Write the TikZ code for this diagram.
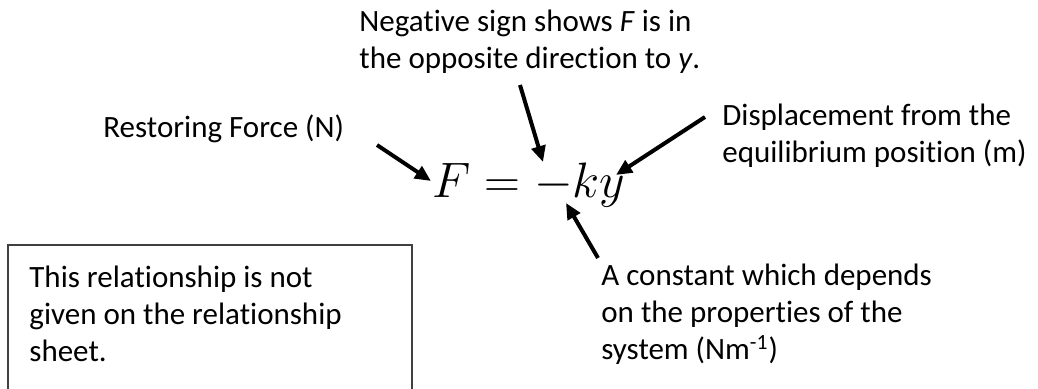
\documentclass[tikz,border=0pt]{standalone}
\usepackage{fontspec}
\setmainfont{Carlito}[Ligatures=NoCommon]
\usetikzlibrary{arrows.meta, positioning}

\begin{document}
\begin{tikzpicture}[x=0.5pt, y=-0.5pt,
    lbl/.style={inner sep=0pt, align=left, font=\fontsize{15.5}{18.7}\selectfont},
    arr/.style={-{Triangle[length=8pt,width=7pt]}, line width=2pt}]
    \useasboundingbox (0,0) rectangle (1038,389);

    % Equation
    \node[inner sep=0pt, anchor=base west, font=\fontsize{24}{28}\selectfont] (eq) at (432,198) {$F = -ky$};

    % Labels (anchored at the baseline of their last line)
    \node[lbl, anchor=base west] (neg) at (359,69) {Negative sign shows \textit{F} is in\\the opposite direction to \textit{y}.};
    \node[lbl, anchor=base west] (restore) at (103,138) {Restoring Force (N)};
    \node[lbl, anchor=base west] (disp) at (722,163) {Displacement from the\\equilibrium position (m)};
    \node[lbl, anchor=base west] (const) at (601,360) {A constant which depends\\on the properties of the\\system (Nm\textsuperscript{-1})};

    % Note box
    \draw[line width=1pt, black!75] (8,245) rectangle (412,430);
    \node[lbl, anchor=base west] (note) at (29,362) {This relationship is not\\given on the relationship\\sheet.};

    % Arrow ends
    \coordinate (restore-end) at (377,145);
    \coordinate (F-in) at (431,181);
    \coordinate (neg-end) at (520,85);
    \coordinate (minus-in) at (543,162);
    \coordinate (disp-end) at (705,117);
    \coordinate (y-in) at (616,175);
    \coordinate (const-end) at (598,258);
    \coordinate (k-in) at (566,203);

    % Arrows
    \draw[arr] (restore-end) -- (F-in);
    \draw[arr] (neg-end) -- (minus-in);
    \draw[arr] (disp-end) -- (y-in);
    \draw[arr] (const-end) -- (k-in);
\end{tikzpicture}
\end{document}
